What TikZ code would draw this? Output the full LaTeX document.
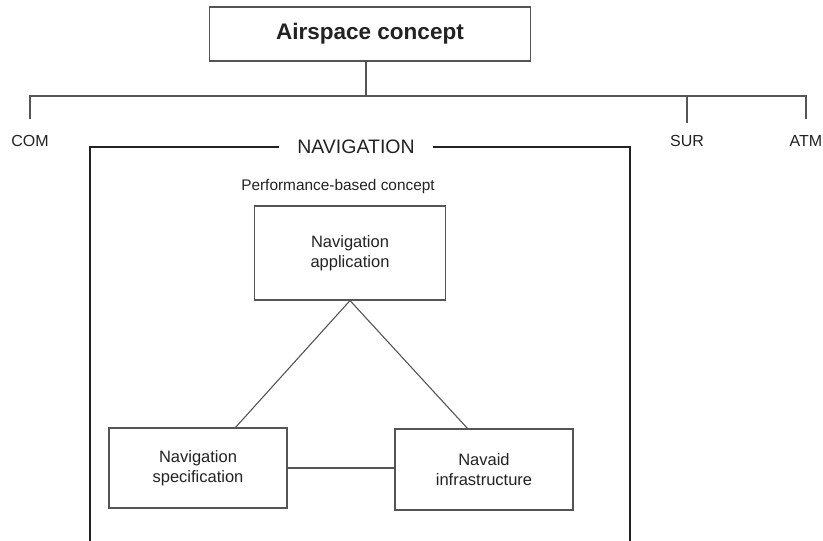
\documentclass[tikz,border=0pt]{standalone}
\usepackage{fontspec}
\setmainfont{Liberation Sans}
\usetikzlibrary{
    calc,
    positioning
}
\definecolor{linegray}{HTML}{555555}
\definecolor{textgray}{HTML}{222222}
\tikzset{
    every picture/.style = {
        x = 1pt,
        y = -1pt,
        line width = 1.1pt
    },
    every node/.style = {
        text = textgray,
        align = center
    },
    box/.style = {
        draw = linegray,
        rectangle,
        font = \fontsize{16.5}{20}\selectfont
    },
    branch/.style = {
        inner sep = 0pt,
        outer sep = 16pt,
        font = \fontsize{16}{19}\selectfont
    },
    link/.style = {
        draw = linegray
    }
}

\begin{document}
\begin{tikzpicture}
    \useasboundingbox (0, 0) rectangle (823, 541);
    % top of the hierarchy
    \node[box, minimum width = 321pt, minimum height = 54pt,
          font = \fontsize{22.5}{26}\selectfont\bfseries] (airspace) at (370, 34) {Airspace concept};
    \coordinate (bus) at (366, 96);
    \node[branch] (com) at (30, 141) {COM};
    \node[branch, outer sep = 12pt] (sur) at (687, 141) {SUR};
    \node[branch] (atm) at (806, 141) {ATM};
    \path[link] (bus |- airspace.south) -- (bus);
    \path[link] (com.north) |- (bus) -| (atm.north);
    \path[link] (bus -| sur) -- (sur.north);

    % navigation frame
    \node[font = \fontsize{19.5}{23}\selectfont, inner sep = 18pt] (navigation) at (356, 147) {NAVIGATION};
    \coordinate (frameBL) at (90, 545);
    \coordinate (frameBR) at (630, 545);
    \draw[textgray, line width = 1.5pt] (navigation.west) -- (frameBL |- navigation) -- (frameBL);
    \draw[textgray, line width = 1.5pt] (navigation.east) -- (frameBR |- navigation) -- (frameBR);
    \node[font = \fontsize{15.4}{18}\selectfont] (pbn) at (338, 187) {Performance-based concept};

    % triangle of the concept
    \node[box, minimum width = 191pt, minimum height = 94pt] (application) at (350, 253) {Navigation\\application};
    \node[box, minimum width = 178pt, minimum height = 80pt] (specification) at (198, 468) {Navigation\\specification};
    \node[box, minimum width = 178pt, minimum height = 81pt] (infrastructure) at (484, 469.5) {Navaid\\infrastructure};
    \path[link] (application.south) -- (235, 428);
    \path[link] (application.south) -- (468, 429);
    \path[link] (specification) -- (specification -| infrastructure.west);
\end{tikzpicture}
\end{document}
